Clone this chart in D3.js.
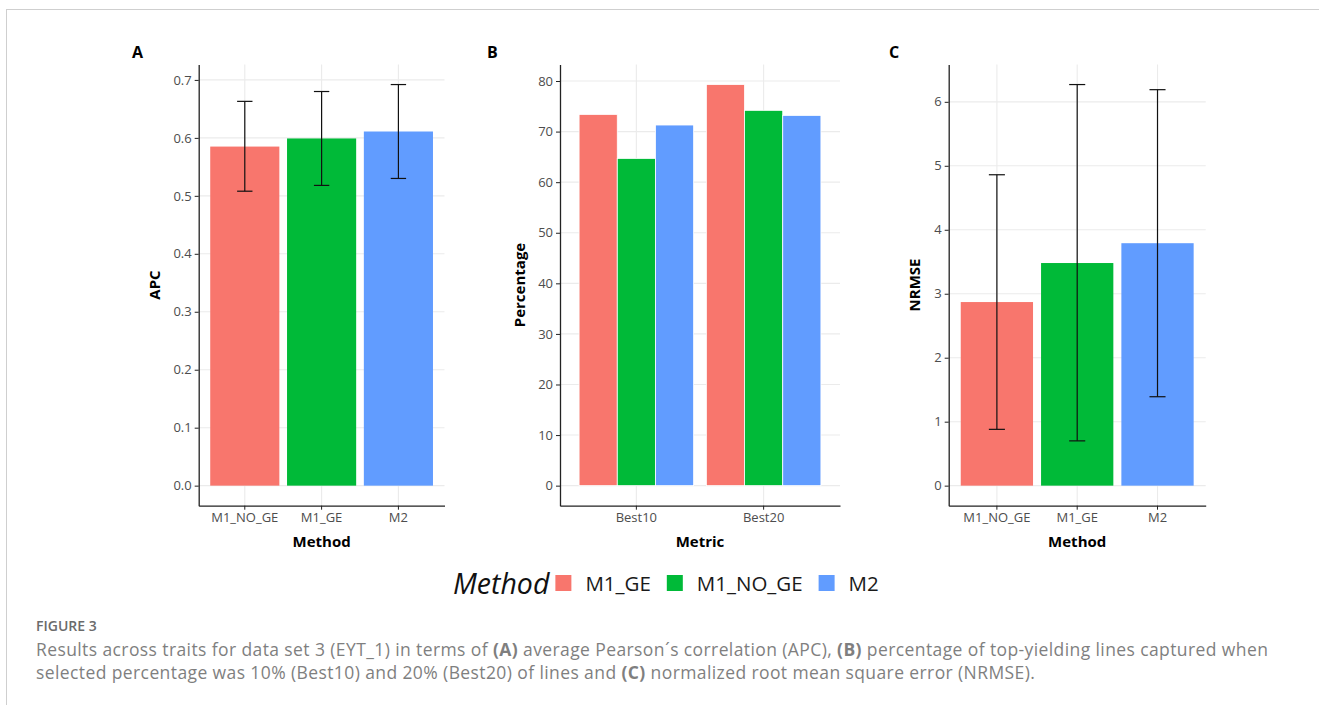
<!DOCTYPE html>
<html>
<head>
<meta charset="utf-8">
<script src="https://cdn.jsdelivr.net/npm/d3@7"></script>
<style>
  body { margin: 0; background: #fff; }
  svg text { font-family: "Open Sans", "Noto Sans", sans-serif; }
  .axis path, .axis line { stroke: #222; }
  .axis text { fill: #4d4d4d; font-size: 13px; }
  .caption text { fill: #7f7f7f; }
</style>
</head>
<body>
<svg id="fig" width="1319" height="705"></svg>
<script>
// data
var methods = ["M1_NO_GE", "M1_GE", "M2"];
var apcMean = [0.585, 0.599, 0.611];
var apcLow = [0.508, 0.518, 0.530];
var apcHigh = [0.663, 0.680, 0.692];
var apcTicks = [0, 0.1, 0.2, 0.3, 0.4, 0.5, 0.6, 0.7];

var metrics = ["Best10", "Best20"];
var legendMethods = ["M1_GE", "M1_NO_GE", "M2"];
var best10 = [73.4, 64.7, 71.3];
var best20 = [79.3, 74.2, 73.2];
var pctTicks = [0, 10, 20, 30, 40, 50, 60, 70, 80];

var nrmseMean = [2.87, 3.48, 3.79];
var nrmseLow = [0.88, 0.70, 1.39];
var nrmseHigh = [4.86, 6.27, 6.19];
var nrmseTicks = [0, 1, 2, 3, 4, 5, 6];

var colors = ["#F8766D", "#00BA38", "#619CFF"];

var svg = d3.select("#fig");

// page frame
svg.append("line").attr("x1", 7).attr("x2", 1319).attr("y1", 9.5).attr("y2", 9.5)
	.attr("stroke", "#cfcfcf");
svg.append("line").attr("x1", 6.5).attr("x2", 6.5).attr("y1", 9).attr("y2", 705)
	.attr("stroke", "#cfcfcf");

var plotTop = 64.5, plotBottom = 505.7;

function makePanel(opt) {
	var g = svg.append("g");
	var x = d3.scaleBand().domain(opt.cats).range([opt.x0, opt.x1])
		.paddingInner(0.1).paddingOuter(0.15);
	var hi = opt.max;
	var y = d3.scaleLinear().domain([-0.05 * hi, 1.05 * hi]).range([plotBottom, plotTop]);

	// grid
	g.selectAll(".hg").data(opt.ticks).enter().append("line")
		.attr("x1", opt.x0).attr("x2", opt.x1)
		.attr("y1", function(d) { return y(d); }).attr("y2", function(d) { return y(d); })
		.attr("stroke", "#ebebeb").attr("stroke-width", 1.1);
	g.selectAll(".vg").data(opt.cats).enter().append("line")
		.attr("x1", function(d) { return x(d) + x.bandwidth() / 2; })
		.attr("x2", function(d) { return x(d) + x.bandwidth() / 2; })
		.attr("y1", plotTop).attr("y2", plotBottom)
		.attr("stroke", "#ebebeb").attr("stroke-width", 1.1);

	opt.draw(g, x, y);

	g.append("g").attr("class", "axis")
		.attr("transform", "translate(0," + plotBottom + ")")
		.call(d3.axisBottom(x).tickSize(4).tickSizeOuter(0).tickPadding(3))
		.select(".domain").attr("stroke-width", 1.3);
	g.append("g").attr("class", "axis")
		.attr("transform", "translate(" + opt.x0 + ",0)")
		.call(d3.axisLeft(y).tickValues(opt.ticks).tickSize(4).tickSizeOuter(0).tickPadding(3)
			.tickFormat(opt.fmt))
		.select(".domain").attr("stroke-width", 1.3);

	// titles
	g.append("text").attr("x", (opt.x0 + opt.x1) / 2).attr("y", 547)
		.attr("text-anchor", "middle").attr("font-size", 15).attr("font-weight", "bold")
		.text(opt.xTitle);
	g.append("text").attr("transform", "translate(" + opt.yTitleX + ",285) rotate(-90)")
		.attr("text-anchor", "middle").attr("font-size", 15).attr("font-weight", "bold")
		.text(opt.yTitle);
	g.append("text").attr("x", opt.tagX).attr("y", 58)
		.attr("font-size", 16).attr("font-weight", "bold").text(opt.tag);
}

function drawMeanBars(mean, low, high) {
	return function(g, x, y) {
		var bw = x.bandwidth();
		var step = x.step();
		g.selectAll(".bar").data(methods).enter().append("rect")
			.attr("x", function(d) { return x(d); })
			.attr("width", bw)
			.attr("y", function(d, i) { return y(mean[i]); })
			.attr("height", function(d, i) { return y(0) - y(mean[i]); })
			.attr("fill", function(d, i) { return colors[i]; });
		var eb = g.selectAll(".eb").data(methods).enter().append("g")
			.attr("stroke", "#111").attr("stroke-width", 1.2);
		eb.append("line")
			.attr("x1", function(d) { return x(d) + bw / 2; })
			.attr("x2", function(d) { return x(d) + bw / 2; })
			.attr("y1", function(d, i) { return y(low[i]); })
			.attr("y2", function(d, i) { return y(high[i]); });
		[low, high].forEach(function(arr) {
			eb.append("line")
				.attr("x1", function(d) { return x(d) + bw / 2 - step * 0.1; })
				.attr("x2", function(d) { return x(d) + bw / 2 + step * 0.1; })
				.attr("y1", function(d, i) { return y(arr[i]); })
				.attr("y2", function(d, i) { return y(arr[i]); });
		});
	};
}

// A
makePanel({
	cats: methods, x0: 198.7, x1: 444.5, max: d3.max(apcHigh), ticks: apcTicks,
	fmt: d3.format(".1f"), xTitle: "Method", yTitle: "APC", yTitleX: 160,
	tag: "A", tagX: 132,
	draw: drawMeanBars(apcMean, apcLow, apcHigh)
});

// B
var pctRows = [best10, best20];
makePanel({
	cats: metrics, x0: 560, x1: 840, max: d3.max(best10.concat(best20)), ticks: pctTicks,
	fmt: d3.format("d"), xTitle: "Metric", yTitle: "Percentage", yTitleX: 525,
	tag: "B", tagX: 487,
	draw: function(g, x, y) {
		var inner = d3.scaleBand().domain(legendMethods).range([0, x.bandwidth()]);
		metrics.forEach(function(m, mi) {
			g.selectAll(".b" + mi).data(legendMethods).enter().append("rect")
				.attr("x", function(d) { return x(m) + inner(d); })
				.attr("width", inner.bandwidth())
				.attr("y", function(d, i) { return y(pctRows[mi][i]); })
				.attr("height", function(d, i) { return y(0) - y(pctRows[mi][i]); })
				.attr("fill", function(d, i) { return colors[i]; })
				.attr("stroke", "#fff").attr("stroke-width", 0.8);
		});
	}
});

// C
makePanel({
	cats: methods, x0: 948.7, x1: 1205.7, max: d3.max(nrmseHigh), ticks: nrmseTicks,
	fmt: d3.format("d"), xTitle: "Method", yTitle: "NRMSE", yTitleX: 920,
	tag: "C", tagX: 889,
	draw: drawMeanBars(nrmseMean, nrmseLow, nrmseHigh)
});

// legend
var lg = svg.append("g");
var lt = lg.append("text").attr("x", 453).attr("y", 594)
	.attr("font-size", 28.5).attr("font-style", "italic").attr("fill", "#111").text("Method");
var cx = 453 + lt.node().getComputedTextLength() + 6;
legendMethods.forEach(function(m, i) {
	lg.append("rect").attr("x", cx).attr("y", 575).attr("width", 16).attr("height", 16)
		.attr("fill", colors[i]);
	var t = lg.append("text").attr("x", cx + 30).attr("y", 591)
		.attr("font-size", 20.5).attr("fill", "#1a1a1a").text(m);
	cx = cx + 30 + t.node().getComputedTextLength() + 16;
});

// caption
var cap = svg.append("g").attr("class", "caption");
cap.append("text").attr("x", 36).attr("y", 631).attr("font-size", 14)
	.attr("font-weight", 600).style("fill", "#6b6b6b").text("FIGURE 3");
var lines = [
	[["Results across traits for data set 3 (EYT_1) in terms of ", 0], ["(A)", 1],
	 [" average Pearson\u00b4s correlation (APC), ", 0], ["(B)", 1],
	 [" percentage of top-yielding lines captured when", 0]],
	[["selected percentage was 10% (Best10) and 20% (Best20) of lines and ", 0], ["(C)", 1],
	 [" normalized root mean square error (NRMSE).", 0]]
];
lines.forEach(function(parts, li) {
	var t = cap.append("text").attr("x", 36).attr("y", 656 + li * 23)
		.attr("font-size", 17.5).attr("letter-spacing", 0.4);
	parts.forEach(function(p) {
		t.append("tspan").attr("font-weight", p[1] ? "bold" : null).text(p[0]);
	});
});
</script>
</body>
</html>
